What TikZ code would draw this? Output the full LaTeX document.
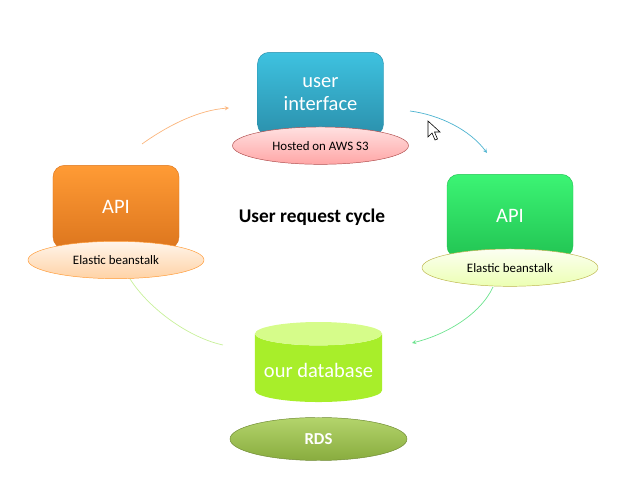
\documentclass[tikz,border=0pt]{standalone}
\usepackage{fontspec}
\setmainfont{Carlito}
\usepackage{xcolor}
\usetikzlibrary{shapes.geometric,arrows,positioning}

\definecolor{uitop}{HTML}{3EC2E0}
\definecolor{uibot}{HTML}{2B90AC}
\definecolor{ortop}{HTML}{FF9B35}
\definecolor{orbot}{HTML}{DD761E}
\definecolor{grtop}{HTML}{3CF474}
\definecolor{grbot}{HTML}{22C453}
\definecolor{dbbody}{HTML}{A8EE2A}
\definecolor{dbcap}{HTML}{D6FC8A}
\definecolor{rdstop}{HTML}{B4D46C}
\definecolor{rdsbot}{HTML}{89AC3E}
\definecolor{arrorange}{HTML}{FBB57C}
\definecolor{arrblue}{HTML}{4DB3D0}
\definecolor{arrgreen}{HTML}{6CE38E}
\definecolor{arrlime}{HTML}{C8F09A}

\tikzstyle{box} = [rectangle, rounded corners=0.35cm, minimum width=3.78cm, minimum height=2.5cm, text centered, text width=3.5cm, text=white, font=\fontsize{17.5}{19.6}\selectfont]
\tikzstyle{tag} = [ellipse, minimum width=5.28cm, minimum height=1.12cm, inner sep=0pt, text centered, font=\fontsize{11}{13}\selectfont]
\tikzstyle{store} = [cylinder, shape border rotate=90, aspect=0.2, minimum width=3.81cm, minimum height=2.4cm, cylinder uses custom fill, cylinder body fill=dbbody, cylinder end fill=dbcap, text=white, font=\fontsize{17.5}{19.6}\selectfont]
\tikzstyle{arrow} = [semithick,->,>=stealth]

\begin{document}
\begin{tikzpicture}[x=0.03cm, y=0.03cm, node distance=1.55cm]
\useasboundingbox (0,0) rectangle (634,487);

\node(ui) [box, top color=uitop, bottom color=uibot, draw=uibot] at (320.5,393) {user\\interface};
\node(hosted) [tag, below of = ui, top color=red!12, bottom color=red!35, draw=red!55!black!70] {Hosted on AWS S3};
\node(apileft) [box, top color=ortop, bottom color=orbot, draw=orbot] at (116,280) {API};
\node(ebleft) [tag, below of = apileft, yshift=-0.04cm, top color=orange!8, bottom color=orange!35, draw=orange!80] {Elastic beanstalk};
\node(apiright) [box, top color=grtop, bottom color=grbot, draw=grbot] at (510,271) {API};
\node(ebright) [tag, below of = apiright, top color=lime!5, bottom color=lime!30, draw=olive!60] {Elastic beanstalk};
\node(db) [store] at (318.5,117) {our database};
\node(rds) [tag, below of = db, yshift=-0.52cm, minimum width=5.31cm, minimum height=1.29cm, top color=rdstop, bottom color=rdsbot, draw=rdsbot!80!black, text=white, font=\fontsize{14.3}{16}\selectfont\bfseries] {RDS};
\node(title) at (312,270) {\fontsize{16.5}{19}\selectfont\bfseries User request cycle};

% free ends of the cycle arcs
\coordinate (leftout) at (142,343);
\coordinate (uiin) at (229,379);
\coordinate (uiout) at (410,376);
\coordinate (rightin) at (487,334);
\coordinate (rightout) at (493,200);
\coordinate (dbin) at (412,144);
\coordinate (dbout) at (223,142);
\coordinate (leftin) at (130,208);

\draw [arrow, arrorange] (leftout) .. controls (170,363) and (200,377) .. (uiin);
\draw [arrow, arrblue] (uiout) .. controls (440,372) and (470,357) .. (rightin);
\draw [arrow, arrgreen] (rightout) .. controls (480,172) and (445,152) .. (dbin);
\draw [semithick, arrlime] (leftin) .. controls (150,177) and (190,149) .. (dbout);

% mouse pointer
\draw [fill=white, line width=0.5pt] (428,366) -- (428,350) -- (432,354) -- (435,347) -- (437.5,348) -- (434.5,355) -- (440,355) -- cycle;

\end{tikzpicture}
\end{document}
